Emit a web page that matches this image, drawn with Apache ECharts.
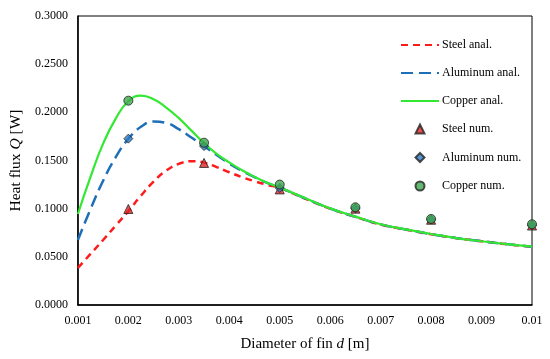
<!DOCTYPE html>
<html><head><meta charset="utf-8">
<script src="https://cdn.jsdelivr.net/npm/echarts@6/dist/echarts.min.js"></script>
<style>html,body{margin:0;padding:0;background:#fff}#c{width:550px;height:359px}</style>
</head><body><div id="c"></div>
<script>
// analytical curves
const dAnal = [0.001,0.00125,0.0015,0.00175,0.002,0.00225,0.0025,0.00275,0.003,0.00325,0.0035,0.00375,0.004,0.00425,0.0045,0.00475,0.005,0.0055,0.006,0.0065,0.007,0.0075,0.008,0.0085,0.009,0.0095,0.01];
const steelAnal    = [0.0385,0.0530,0.0675,0.0825,0.0975,0.1135,0.1280,0.1395,0.1465,0.1492,0.1478,0.1432,0.1378,0.1328,0.1285,0.1248,0.1215,0.1105,0.1000,0.0915,0.0836,0.0783,0.0735,0.0694,0.0661,0.0631,0.0604];
const aluminumAnal = [0.0675,0.0995,0.1290,0.1535,0.1725,0.1850,0.1905,0.1890,0.1825,0.1738,0.1648,0.1558,0.1468,0.1392,0.1328,0.1268,0.1218,0.1108,0.1002,0.0916,0.0837,0.0784,0.0736,0.0695,0.0662,0.0632,0.0605];
const copperAnal   = [0.0945,0.1330,0.1675,0.1935,0.2115,0.2173,0.2135,0.2050,0.1940,0.1810,0.1680,0.1570,0.1480,0.1400,0.1330,0.1270,0.1220,0.1110,0.1003,0.0917,0.0838,0.0785,0.0737,0.0695,0.0662,0.0632,0.0605];
// numerical points
const dNum = [0.002,0.0035,0.005,0.0065,0.008,0.01];
const steelNum    = [0.0997,0.1475,0.1200,0.1000,0.0885,0.0825];
const aluminumNum = [0.1727,0.1650,0.1215,0.1005,0.0888,0.0830];
const copperNum   = [0.2121,0.1685,0.1250,0.1014,0.0893,0.0838];

const pair = (xs, ys) => xs.map((x,i)=>[x, ys[i]]);
const FONT = '"Liberation Serif","Times New Roman",serif';
const chart = echarts.init(document.getElementById('c'));
const lineS = (name, ys, color, dash, w) => ({
  name, type:'line', data: pair(dAnal, ys), smooth: 0.5, showSymbol:false, symbol:'none',
  lineStyle:{color, width:w, type: dash}, itemStyle:{color}, z:2
});
const ptS = (name, ys, color, symbol, size) => ({
  name, type:'scatter', data: pair(dNum, ys), symbol, symbolSize:size,
  itemStyle:{color, borderColor:'#222', borderWidth:1}, z:5
});
chart.setOption({
  animation:false,
  backgroundColor:'#fff',
  grid:{left:71, right:18, top:16, bottom:54, show:true, borderColor:'#000', borderWidth:1},
  xAxis:{type:'value', min:0.001, max:0.01, interval:0.001,
    axisLine:{lineStyle:{color:'#000', width:1.5}}, axisTick:{show:false}, splitLine:{show:false},
    axisLabel:{color:'#000', fontFamily:FONT, fontSize:12, margin:10,
      formatter:v=>String(parseFloat(v.toFixed(3)))},
    name:'{n|Diameter of fin }{i|d}{n| [m]}', nameLocation:'middle', nameGap:32,
    nameTextStyle:{rich:{n:{fontFamily:FONT,fontSize:15,color:'#000'}, i:{fontFamily:FONT,fontSize:15,fontStyle:'italic',color:'#000'}}}
  },
  yAxis:{type:'value', min:0, max:0.3, interval:0.05,
    axisLine:{show:true, lineStyle:{color:'#000', width:1.5}}, axisTick:{show:false}, splitLine:{show:false},
    axisLabel:{color:'#000', fontFamily:FONT, fontSize:12, margin:10, formatter:v=>v.toFixed(4)},
    name:'{n|Heat flux }{i|Q}{n| [W]}', nameLocation:'middle', nameGap:51,
    nameTextStyle:{rich:{n:{fontFamily:FONT,fontSize:15.5,color:'#000'}, i:{fontFamily:FONT,fontSize:15.5,fontStyle:'italic',color:'#000'}}}
  },
  legend:[
    {orient:'vertical', left:400, top:39, padding:0, itemWidth:38, itemHeight:12, itemGap:16,
     textStyle:{fontFamily:FONT, fontSize:12, color:'#000', padding:[0,0,0,-2]},
     data:[{name:'Steel anal.', itemStyle:{opacity:0}},{name:'Aluminum anal.', itemStyle:{opacity:0}},{name:'Copper anal.', itemStyle:{opacity:0}}]},
    {orient:'vertical', left:414.5, top:123, padding:0, itemWidth:9, itemHeight:9, itemGap:16.5,
     textStyle:{fontFamily:FONT, fontSize:12, color:'#000', padding:[0,0,0,12.5]},
     data:['Steel num.','Aluminum num.','Copper num.']}
  ],
  series:[
    lineS('Steel anal.', steelAnal, '#FF1A1A', [7,5], 2.5),
    lineS('Aluminum anal.', aluminumAnal, '#1F6FB8', [12,6], 2.5),
    lineS('Copper anal.', copperAnal, '#33E833', 'solid', 2.2),
    ptS('Steel num.', steelNum, '#E02424', 'triangle', 9),
    ptS('Aluminum num.', aluminumNum, '#2E7CC4', 'diamond', 9),
    ptS('Copper num.', copperNum, '#3DA84E', 'circle', 9)
  ]
});
</script></body></html>
